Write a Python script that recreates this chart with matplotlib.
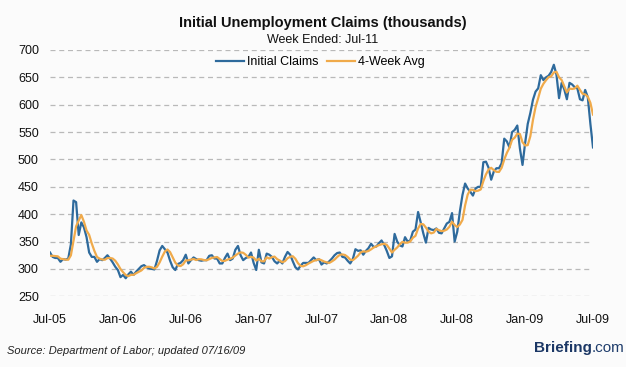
import matplotlib
matplotlib.use("Agg")
import matplotlib.pyplot as plt

# weekly initial claims (thousands), weeks ended 2005-07-16 .. 2009-07-11
claims = [
    330, 322, 320, 320, 313, 318, 317, 319, 345, 425,
    422, 362, 385, 376, 358, 330, 322, 322, 313, 318,
    316, 320, 325, 319, 312, 304, 298, 285, 289, 283,
    290, 295, 289, 295, 300, 305, 307, 303, 301, 300,
    299, 315, 334, 342, 336, 330, 315, 303, 298, 309,
    311, 316, 326,
    310, 316, 321, 318, 316, 315, 316, 316, 324, 325,
    319, 319, 310, 310, 320, 328, 316, 319, 335, 342,
    325, 316, 320, 322, 330, 311, 298, 335, 312, 310,
    328, 326, 322, 314, 310, 315, 310, 322, 331, 326,
    314, 303, 299, 306, 311, 311, 311, 316, 321, 316,
    318, 308, 312,
    310, 314, 319, 325, 329, 330, 322, 321, 315, 310,
    318, 336, 333, 334, 326, 333, 338, 346, 340, 341,
    347, 352, 344, 333, 320, 323, 364, 350, 343, 341,
    358, 350, 352, 368, 372, 404, 385, 365, 348, 375,
    372, 371, 374, 366, 365, 374, 383, 386, 402, 350,
    368, 405,
    435, 456, 447, 441, 434, 447, 450, 450, 495, 496,
    485, 463, 478, 484, 484, 493, 538, 533, 522, 550,
    554, 562, 520, 490, 530, 565, 585, 609, 624, 630,
    654, 645, 650, 653, 660, 673, 655, 612, 640, 628,
    610, 640, 637, 632, 630, 610, 608, 627, 614, 565, 522,
]

avg4 = [
    324, 324, 323.5, 323, 318.8, 317.8, 317, 316.8, 324.8, 351.5,
    377.8, 388.5, 398.5, 386.2, 370.2, 362.2, 346.5, 333, 321.8, 318.8,
    317.2, 316.8, 319.8, 320, 319, 315, 308.2, 299.8, 294, 288.8,
    286.8, 289.2, 289.2, 292.2, 294.8, 297.2, 301.8, 303.8, 304, 302.8,
    300.8, 303.8, 312, 322.5, 331.8, 335.5, 330.8, 321, 311.5, 306.2,
    305.2, 308.5, 315.5, 315.8,
    317, 318.2, 316.2, 317.8, 317.5, 316.2, 315.8, 317.8, 320.2, 321,
    321.8, 318.2, 314.5, 314.8, 317, 318.5, 320.8, 324.5, 328, 330.2,
    329.5, 325.8, 320.8, 322, 320.8, 315.2, 318.5, 314, 313.8, 321.2,
    319, 321.5, 322.5, 318, 315.2, 312.2, 314.2, 319.5, 322.2, 323.2,
    318.5, 310.5, 305.5, 304.8, 306.8, 309.8, 312.2, 314.8, 316, 317.8,
    315.8, 313.5, 312, 311, 313.8, 317, 321.8, 325.8, 326.5, 325.5,
    322, 317, 316, 319.8, 324.2, 330.2, 332.2, 331.5, 332.8, 335.8,
    339.2, 341.2, 343.5, 345, 346, 344, 337.2, 330, 335, 339.2,
    345, 349.5, 348, 348, 350.2, 357, 360.5, 374, 382.2, 381.5,
    375.5, 368.2, 365, 366.5, 373, 370.8, 369, 369.8, 372, 377,
    386.2, 380.2, 376.5, 381.2, 389.5, 416, 435.8, 444.8, 444.5, 442.2,
    443, 445.2, 460.5, 472.8, 481.5, 484.8, 480.5, 477.5, 477.2, 484.8,
    499.8, 512, 521.5, 535.8, 539.8, 547, 546.5, 531.5, 525.5, 526.2,
    542.5, 572.2, 595.8, 612, 629.2, 638.2, 644.8, 650.5, 652, 659,
    660.2, 650, 645, 633.8, 622.5, 629.5, 628.8, 629.8, 634.8, 627.2,
    620, 618.8, 614.8, 603.5, 582,
]

tick_labels = ["Jul-05", "Jan-06", "Jul-06", "Jan-07", "Jul-07",
               "Jan-08", "Jul-08", "Jan-09", "Jul-09"]
y_ticks = [250, 300, 350, 400, 450, 500, 550, 600, 650, 700]

BG = "#fbfbfb"
BLUE = "#2e6a9c"
ORANGE = "#f0aa4a"
plt.rcParams["font.family"] = ["Liberation Sans", "DejaVu Sans"]

fig = plt.figure(figsize=(6.26, 3.67), dpi=100, facecolor=BG)
ax = fig.add_axes([50 / 626, 1 - 296.3 / 367, 543 / 626, 246.3 / 367])
ax.set_facecolor(BG)

weeks = list(range(len(claims)))
ax.plot(weeks, claims, color=BLUE, lw=1.6, label="Initial Claims", zorder=3)
ax.plot(weeks, avg4, color=ORANGE, lw=1.6, label="4-Week Avg", zorder=4)

ax.set_xlim(0, len(claims) - 1)
ax.set_ylim(250, 700)
ax.set_yticks(y_ticks)
ax.set_xticks(range(0, len(claims), 26))
ax.set_xticklabels(tick_labels)
ax.tick_params(axis="both", length=0, labelsize=9, colors="#111111")
ax.tick_params(axis="y", pad=8)
ax.tick_params(axis="x", pad=13)
ax.yaxis.grid(True, linestyle=(0, (4, 3)), color="#b9b9b9", lw=0.9)
ax.set_axisbelow(True)
for sp in ax.spines.values():
    sp.set_visible(False)

fig.text(0.516, 1 - 23 / 367, "Initial Unemployment Claims (thousands)",
         ha="center", va="center", fontsize=10.5, fontweight="bold", color="#111111")
fig.text(0.516, 1 - 40 / 367, "Week Ended: Jul-11",
         ha="center", va="center", fontsize=9, color="#111111")

fig.legend(loc="center", bbox_to_anchor=(0.512, 1 - 62 / 367), ncol=2,
           frameon=False, fontsize=9, handlelength=2.2, handletextpad=0.25,
           columnspacing=0.7, borderpad=0)

fig.text(7 / 626, 1 - 351 / 367, "Source: Department of Labor; updated 07/16/09",
         ha="left", va="center", fontsize=8, style="italic", color="#222222")

com = fig.text(0.998, 1 - 348 / 367, ".com", ha="right", va="center",
               fontsize=11, color="#1f3d6c")
fig.canvas.draw()
bb = com.get_window_extent(fig.canvas.get_renderer())
fig.text(bb.x0 / fig.bbox.width, 1 - 348 / 367, "Briefing", ha="right", va="center",
         fontsize=11, fontweight="bold", color="#1b3765")

fig.savefig("out.png", dpi=100, facecolor=BG)
